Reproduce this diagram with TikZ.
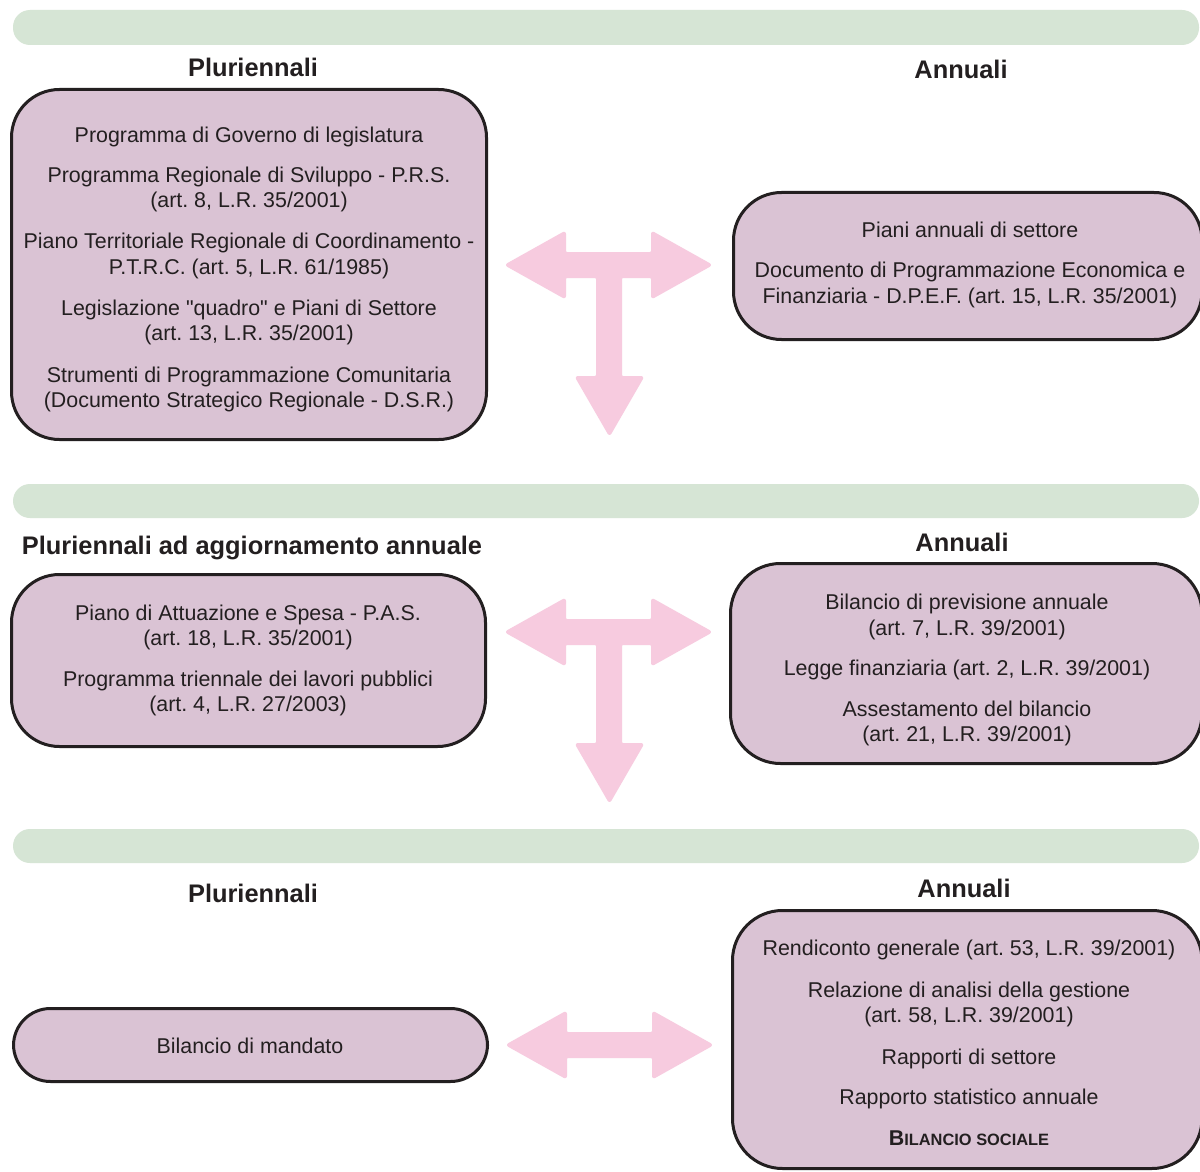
\documentclass[tikz,border=0pt]{standalone}
\usepackage{fontspec}
\setmainfont{Liberation Sans}[Ligatures=TeXOff]
\definecolor{barg}{RGB}{214,229,213}
\definecolor{boxf}{RGB}{218,195,212}
\definecolor{arrp}{RGB}{247,203,223}
\definecolor{ink}{RGB}{35,31,32}
\newcommand\tl[4]{\node[txt,anchor=base] (#1) at (#2,#3) {#4};}
\newcommand\hd[4]{\node[hdr,anchor=base] (#1) at (#2,#3) {#4};}
\frenchspacing
\begin{document}
\begin{tikzpicture}[x=0.5pt,y=-0.5pt,
  bar/.style={fill=barg,draw=none,rounded corners=8.5pt},
  box/.style={fill=boxf,draw=ink,line width=1.5pt},
  arrowfill/.style={fill=arrp,draw=arrp,line width=1pt,line join=round,rounded corners=1pt},
  txt/.style={inner sep=0pt,text=ink,font=\fontsize{10.7pt}{12.5pt}\selectfont\frenchspacing},
  hdr/.style={inner sep=0pt,text=ink,font=\fontsize{12.7pt}{14pt}\selectfont\bfseries}]
\clip (0,0) rectangle (1200,1172);
\fill[white] (0,0) rectangle (1200,1172);
% green bars
\path[bar] (13,10) rectangle (1199,45);
\path[bar] (13,484) rectangle (1199,518);
\path[bar] (13,829) rectangle (1199,863);
% headers
\hd{h1l}{253}{77}{Pluriennali}
\hd{h1r}{961}{79}{Annuali}
\hd{h2l}{252}{554}{Pluriennali ad aggiornamento annuale}
\hd{h2r}{962}{551}{Annuali}
\hd{h3l}{253}{902}{Pluriennali}
\hd{h3r}{964}{897}{Annuali}
% boxes
\draw[box,rounded corners=24pt] (11.5,89.5) rectangle (486.5,439.5);
\draw[box,rounded corners=24pt] (733.5,192.5) rectangle (1202,339.5);
\draw[box,rounded corners=24pt] (11.5,574.5) rectangle (485.5,746.5);
\draw[box,rounded corners=25pt] (730.5,563.5) rectangle (1202,763.5);
\draw[box,rounded corners=18.5pt] (13.5,1008.5) rectangle (487.5,1081.5);
\draw[box,rounded corners=25pt] (732.5,910.5) rectangle (1202,1168.5);
% texts box 1
\tl{a1}{249}{142}{Programma di Governo di legislatura}
\tl{a2}{249}{183}{Programma Regionale di Sviluppo - P.R.S.}
\tl{a3}{249}{207}{(art. 8, L.R. 35/2001)}
\tl{a4}{249}{249}{Piano Territoriale Regionale di Coordinamento -}
\tl{a5}{249}{274}{P.T.R.C. (art. 5, L.R. 61/1985)}
\tl{a6}{249}{315}{Legislazione "quadro" e Piani di Settore}
\tl{a7}{249}{340}{(art. 13, L.R. 35/2001)}
\tl{a8}{249}{382}{Strumenti di Programmazione Comunitaria}
\tl{a9}{249}{407}{(Documento Strategico Regionale - D.S.R.)}
% box R1
\tl{b1}{970}{237}{Piani annuali di settore}
\tl{b2}{970}{278}{Documento di Programmazione Economica e}
\tl{b3}{970}{303}{Finanziaria - D.P.E.F. (art. 15, L.R. 35/2001)}
% box L2
\tl{c1}{248}{620}{Piano di Attuazione e Spesa - P.A.S.}
\tl{c2}{248}{645}{(art. 18, L.R. 35/2001)}
\tl{c3}{248}{686}{Programma triennale dei lavori pubblici}
\tl{c4}{248}{711}{(art. 4, L.R. 27/2003)}
% box R2
\tl{d1}{967}{609}{Bilancio di previsione annuale}
\tl{d2}{967}{635}{(art. 7, L.R. 39/2001)}
\tl{d3}{967}{675}{Legge finanziaria (art. 2, L.R. 39/2001)}
\tl{d4}{967}{716}{Assestamento del bilancio}
\tl{d5}{967}{741}{(art. 21, L.R. 39/2001)}
% box L3
\tl{e1}{250}{1053}{Bilancio di mandato}
% box R3
\tl{f1}{969}{955}{Rendiconto generale (art. 53, L.R. 39/2001)}
\tl{f2}{969}{997}{Relazione di analisi della gestione}
\tl{f3}{969}{1022}{(art. 58, L.R. 39/2001)}
\tl{f4}{969}{1064}{Rapporti di settore}
\tl{f5}{969}{1104}{Rapporto statistico annuale}
\tl{f6}{969}{1145}{\bfseries B\fontsize{8.2pt}{10pt}\selectfont ILANCIO SOCIALE}
% T arrows
\foreach \dy in {0,367}{
\path[arrowfill,yshift=-\dy*0.5pt] (506,265) -- (565,232) -- (565,253) -- (652,253) -- (652,232) -- (711,265) -- (652,298) -- (652,277) -- (621,277) -- (621,377) -- (643,377) -- (609.5,435) -- (576,377) -- (597,377) -- (597,277) -- (565,277) -- (565,298) -- cycle;
}
% double arrow
\path[arrowfill] (507,1045) -- (566,1012) -- (566,1033) -- (653,1033) -- (653,1012) -- (712,1045) -- (653,1078) -- (653,1057) -- (566,1057) -- (566,1078) -- cycle;
\end{tikzpicture}
\end{document}
